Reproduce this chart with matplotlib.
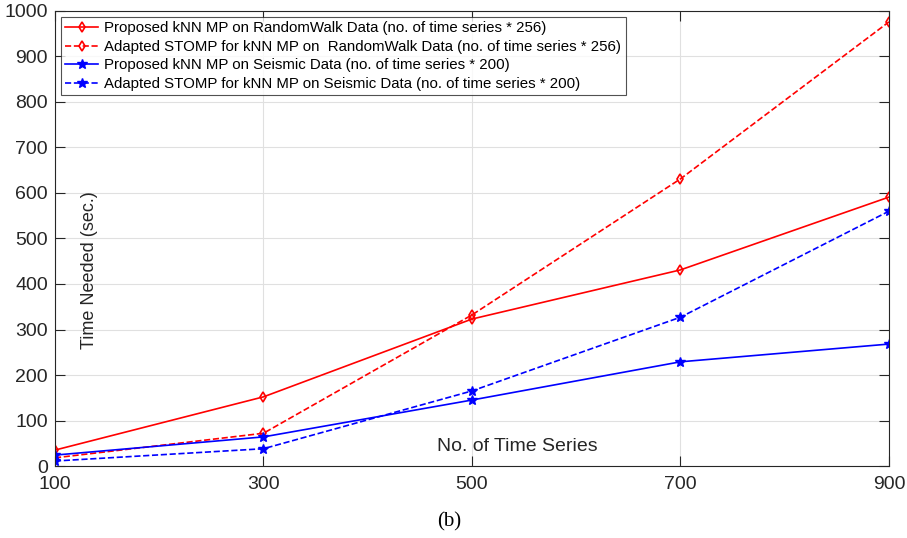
import numpy as np
import matplotlib.pyplot as plt

plt.rcParams['font.family'] = ['Liberation Sans', 'DejaVu Sans']

n_series = [100, 300, 500, 700, 900]
rw_proposed = [35, 152, 323, 431, 591]
rw_stomp = [18, 72, 332, 631, 976]
seis_proposed = [24, 64, 145, 229, 268]
seis_stomp = [11, 38, 165, 327, 560]

labels = [
    'Proposed kNN MP on RandomWalk Data (no. of time series * 256)',
    'Adapted STOMP for kNN MP on  RandomWalk Data (no. of time series * 256)',
    'Proposed kNN MP on Seismic Data (no. of time series * 200)',
    'Adapted STOMP for kNN MP on Seismic Data (no. of time series * 200)',
]

fig = plt.figure(figsize=(9.07, 5.38), dpi=100)
ax = fig.add_axes([0.0606, 0.1338, 0.9195, 0.8458])

ax.plot(n_series, rw_proposed, '-', color='red', lw=1.2, marker='d', ms=5,
        mfc='none', mew=1.2, label=labels[0])
ax.plot(n_series, rw_stomp, '--', color='red', lw=1.2, marker='d', ms=5,
        mfc='none', mew=1.2, label=labels[1])
ax.plot(n_series, seis_proposed, '-', color='blue', lw=1.2, marker='*', ms=7,
        label=labels[2])
ax.plot(n_series, seis_stomp, '--', color='blue', lw=1.2, marker='*', ms=7,
        label=labels[3])

ax.set_xlim(100, 900)
ax.set_ylim(0, 1000)
ax.set_xticks(n_series)
ax.set_yticks(np.arange(0, 1001, 100))
ax.tick_params(direction='in', top=True, right=True, labelsize=14,
               length=7, width=0.8, colors='#262626')
ax.tick_params(axis='x', pad=7)
ax.tick_params(axis='y', pad=5)
ax.grid(True, color='#e0e0e0', lw=0.8)
ax.set_axisbelow(True)
for s in ax.spines.values():
    s.set_color('#262626')
    s.set_linewidth(0.8)

# axis labels sit inside the plot area
ax.text(0.042, 0.43, 'Time Needed (sec.)', transform=ax.transAxes, rotation=90,
        ha='center', va='center', fontsize=13, color='#262626')
ax.text(0.554, 0.042, 'No. of Time Series', transform=ax.transAxes,
        ha='center', va='center', fontsize=14, color='#262626')
fig.text(0.495, 0.030, '(b)', ha='center', va='center', fontsize=15,
         family='Liberation Serif')

leg = ax.legend(loc='upper left', fontsize=10.8, frameon=True, fancybox=False,
                edgecolor='#262626', handlelength=2.2, handletextpad=0.4,
                borderpad=0.3, labelspacing=0.3, borderaxespad=0.4)
leg.get_frame().set_linewidth(0.8)

fig.savefig('out.png', dpi=100)
